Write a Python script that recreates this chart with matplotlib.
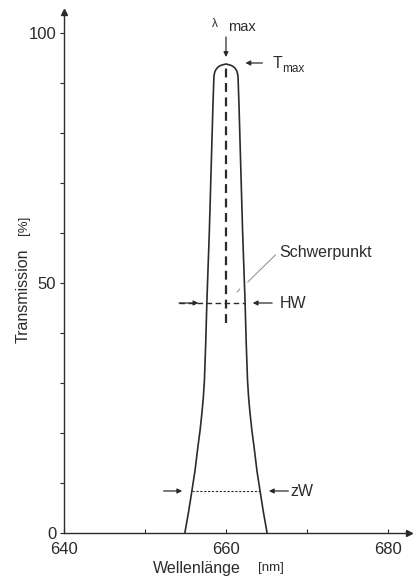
"""Transmission curve of a narrow band interference filter (schematic)."""

import matplotlib

matplotlib.use("Agg", force=True)

import matplotlib.pyplot as plt
import numpy as np

plt.rcParams["font.family"] = ["Liberation Sans", "DejaVu Sans"]

INK = "#2b2b2b"

# filter curve: transmission [%] and half width [nm] around lambda_max
center_nm = 660.0
transmission = [0.0, 4.2, 8.4, 12.5, 17.2, 20.5, 24.0, 27.0, 30.6, 38.0, 46.6, 60.0, 74.6,
	85.0, 91.2, 91.8, 92.4, 93.0, 93.4, 93.6, 93.8]
half_width = [5.08, 4.62, 4.21, 3.82, 3.47, 3.20, 2.97, 2.80, 2.66, 2.50, 2.35, 2.06, 1.80,
	1.62, 1.49, 1.44, 1.34, 1.1, 0.8, 0.5, 0.0]

x_ticks = [640, 650, 660, 670, 680]
x_tick_labels = ["640", "", "660", "", "680"]
y_ticks = [0, 50, 100]
y_minor_ticks = [10, 20, 30, 40, 60, 70, 80, 90]

hw_level = 46.0
zw_level = 8.4
lambda_line_bottom = 42.0

t = np.array(transmission)
hw = np.array(half_width)
curve_x = np.concatenate([center_nm - hw, (center_nm + hw)[::-1]])
curve_y = np.concatenate([t, t[::-1]])

fig = plt.figure(figsize=(4.14, 5.81), dpi=100)
ax = fig.add_axes([64 / 414, 48 / 581, 345 / 414, 521.5 / 581])
ax.set_xlim(640, 640 + 344 / 8.075)
ax.set_ylim(0, 104.3)

for side in ("top", "right"):
	ax.spines[side].set_visible(False)
for side in ("left", "bottom"):
	ax.spines[side].set_color(INK)
	ax.spines[side].set_linewidth(1.0)
ax.plot(1, 0, ">", color=INK, ms=5, transform=ax.transAxes, clip_on=False)
ax.plot(0, 1, "^", color=INK, ms=5, transform=ax.transAxes, clip_on=False)

ax.set_xticks(x_ticks)
ax.set_xticklabels(x_tick_labels)
ax.set_yticks(y_ticks)
ax.set_yticks(y_minor_ticks, minor=True)
ax.tick_params(axis="x", direction="in", length=3, width=0.8, colors=INK, labelsize=12, pad=6.5)
ax.tick_params(axis="y", which="both", direction="out", length=3, width=0.8, colors=INK, labelsize=12, pad=2.5)

# the curve
ax.plot(curve_x, curve_y, color=INK, lw=1.2, clip_on=False)

# lambda max line and arrows
ax.plot([center_nm, center_nm], [lambda_line_bottom, t.max()], color=INK, lw=1.6, dashes=(4, 2.5))
arrow = dict(arrowstyle="-|>", color=INK, lw=0.9, mutation_scale=7, shrinkA=0, shrinkB=0)
ax.annotate("", xy=(center_nm, 95.2), xytext=(center_nm, 99.2), arrowprops=arrow)
ax.text(658.3, 101.8, "λ", fontsize=8.5, color=INK, va="center", ha="left")
ax.text(660.2, 101.2, "max", fontsize=10.5, color=INK, va="center", ha="left")

ax.annotate("", xy=(662.4, 94.0), xytext=(664.5, 94.0), arrowprops=arrow)
ax.text(665.8, 94.0, "T", fontsize=11.5, color=INK, va="center", ha="left")
ax.text(666.9, 92.9, "max", fontsize=8.5, color=INK, va="center", ha="left")

# half width
ax.plot([654.2, 662.4], [hw_level, hw_level], color=INK, lw=1.0, dashes=(4, 2.5))
ax.annotate("", xy=(656.6, hw_level), xytext=(654.2, hw_level), arrowprops=arrow)
ax.annotate("", xy=(663.3, hw_level), xytext=(665.7, hw_level), arrowprops=arrow)
ax.text(666.6, hw_level, "HW", fontsize=11.5, color=INK, va="center", ha="left")

# zero width (base)
ax.plot([655.8, 664.2], [zw_level, zw_level], color=INK, lw=0.8, dashes=(2, 1.5))
ax.annotate("", xy=(654.6, zw_level), xytext=(652.3, zw_level), arrowprops=arrow)
ax.annotate("", xy=(665.3, zw_level), xytext=(667.7, zw_level), arrowprops=arrow)
ax.text(668.0, zw_level, "zW", fontsize=11.5, color=INK, va="center", ha="left")

# centroid leader
ax.plot([666.1, 662.7], [55.6, 50.2], color="#8a8a8a", lw=0.7)
ax.plot([661.4, 661.7], [48.2, 48.8], color="#8a8a8a", lw=0.7)
ax.text(666.6, 56.2, "Schwerpunkt", fontsize=11.5, color=INK, va="center", ha="left")

# axis labels
ax.text(651.0, -7.2, "Wellenlänge", fontsize=11.5, color=INK, va="center", ha="left", clip_on=False)
ax.text(663.9, -7.0, "[nm]", fontsize=9.5, color=INK, va="center", ha="left", clip_on=False)
ax.text(634.9, 47.4, "Transmission", fontsize=11.5, color=INK, va="center", ha="center",
	rotation=90, clip_on=False)
ax.text(635.0, 61.6, "[%]", fontsize=9.5, color=INK, va="center", ha="center", rotation=90, clip_on=False)

fig.savefig("out.png", dpi=100)
plt.close(fig)
